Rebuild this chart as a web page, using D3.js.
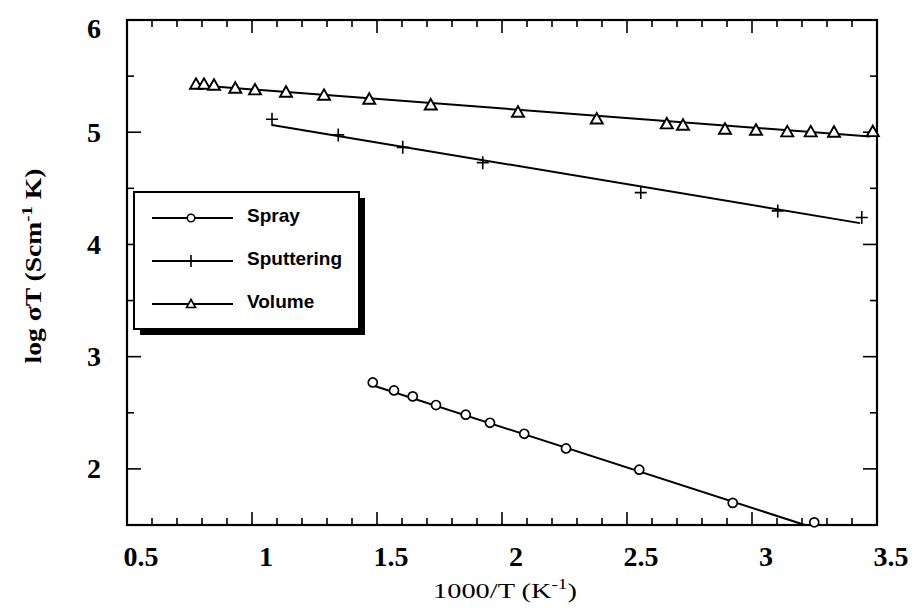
<!DOCTYPE html>
<html>
<head>
<meta charset="utf-8">
<script src="https://cdn.jsdelivr.net/npm/d3@7"></script>
<style>
  body { margin: 0; background: #fff; }
  svg { display: block; }
</style>
</head>
<body>
<svg id="chart"></svg>
<script>
// data
const sprayX = [1.483, 1.568, 1.643, 1.736, 1.855, 1.952, 2.089, 2.256, 2.549, 2.923, 3.249];
const sprayY = [2.770, 2.699, 2.646, 2.569, 2.483, 2.411, 2.313, 2.182, 1.993, 1.697, 1.524];
const sputterX = [1.080, 1.345, 1.603, 1.923, 2.555, 3.103, 3.439];
const sputterY = [5.116, 4.976, 4.865, 4.729, 4.462, 4.299, 4.240];
const volumeX = [0.776, 0.808, 0.848, 0.933, 1.012, 1.136, 1.288, 1.469, 1.715, 2.064, 2.379, 2.659, 2.724, 2.892, 3.016, 3.141, 3.235, 3.328, 3.483];
const volumeY = [5.427, 5.427, 5.419, 5.392, 5.377, 5.356, 5.329, 5.294, 5.243, 5.178, 5.118, 5.074, 5.062, 5.027, 5.018, 5.003, 5.003, 5.000, 5.005];

// fitted lines (end points)
const sprayFit = [[1.475, 2.750], [3.212, 1.500]];
const sputterFit = [[1.080, 5.065], [3.432, 4.190]];
const volumeFit = [[0.760, 5.423], [3.472, 4.961]];

const xTickLabels = [0.5, 1, 1.5, 2, 2.5, 3, 3.5];
const yTickLabels = [2, 3, 4, 5, 6];
const legendNames = ["Spray", "Sputtering", "Volume"];

const width = 915, height = 610;
const margin = { top: 20, right: 38, bottom: 85, left: 127 };
const serif = "'Liberation Serif', 'Times New Roman', serif";
const sans = "'Liberation Sans', Arial, sans-serif";

const svg = d3.select("#chart")
    .attr("width", width)
    .attr("height", height)
    .style("background-color", "#ffffff");

const x = d3.scaleLinear().domain([0.5, 3.5]).range([margin.left, width - margin.right]);
const y = d3.scaleLinear().domain([1.5, 6]).range([height - margin.bottom, margin.top]);

// ticks, all pointing inward
const xMinor = d3.range(5, 36).map(d => d / 10);
const yMinor = d3.range(3, 13).map(d => d / 2);
const isMajorX = d => Math.abs(d * 2 - Math.round(d * 2)) < 1e-6;
const isMajorY = d => Math.abs(d - Math.round(d)) < 1e-6;

const ticks = svg.append("g").attr("stroke", "#000").attr("stroke-width", 1.6);

ticks.selectAll(".xb").data(xMinor).enter().append("line")
    .attr("x1", d => x(d)).attr("x2", d => x(d))
    .attr("y1", y(1.5)).attr("y2", d => y(1.5) - (isMajorX(d) ? 13 : 7));
ticks.selectAll(".xt").data(xMinor).enter().append("line")
    .attr("x1", d => x(d)).attr("x2", d => x(d))
    .attr("y1", y(6)).attr("y2", d => y(6) + (isMajorX(d) ? 13 : 7));
ticks.selectAll(".yl").data(yMinor).enter().append("line")
    .attr("y1", d => y(d)).attr("y2", d => y(d))
    .attr("x1", x(0.5)).attr("x2", d => x(0.5) + (isMajorY(d) ? 14 : 7));
ticks.selectAll(".yr").data(yMinor).enter().append("line")
    .attr("y1", d => y(d)).attr("y2", d => y(d))
    .attr("x1", x(3.5)).attr("x2", d => x(3.5) - (isMajorY(d) ? 14 : 7));

// frame
svg.append("rect")
    .attr("x", x(0.5)).attr("y", y(6))
    .attr("width", x(3.5) - x(0.5)).attr("height", y(1.5) - y(6))
    .attr("fill", "none").attr("stroke", "#000").attr("stroke-width", 2.2);

// tick labels
svg.append("g").selectAll("text").data(xTickLabels).enter().append("text")
    .attr("x", d => x(d) + 14)
    .attr("y", y(1.5) + 41)
    .attr("text-anchor", "middle")
    .style("font-family", serif).style("font-weight", "bold").style("font-size", "28px")
    .text(d => d);

svg.append("g").selectAll("text").data(yTickLabels).enter().append("text")
    .attr("x", 101)
    .attr("y", d => y(d) + (d === 6 ? 8 : 0))
    .attr("text-anchor", "end")
    .attr("dominant-baseline", "central")
    .style("font-family", serif).style("font-weight", "bold").style("font-size", "28px")
    .text(d => d);

// axis titles (stretched along the reading direction like the original)
function stretchedTitle(cx, cy, rotate, target, bold, size, parts) {
    const t = svg.append("text")
        .attr("text-anchor", "middle")
        .style("font-family", serif)
        .style("font-weight", bold ? "bold" : "normal")
        .style("font-size", size + "px");
    parts.forEach(p => {
        const s = t.append("tspan").text(p.text);
        if (p.sup) s.attr("dy", -size * 0.4).style("font-size", (size * 0.68) + "px");
        if (p.after) s.attr("dy", size * 0.4);
    });
    const w = t.node().getComputedTextLength();
    t.attr("transform", `translate(${cx},${cy}) rotate(${rotate}) scale(${target / w},1)`);
}

stretchedTitle(505, 598, 0, 144, false, 22, [
    { text: "1000/T (K" }, { text: "-1", sup: true }, { text: ")", after: true }
]);
stretchedTitle(41, 266, -90, 195, true, 23, [
    { text: "log \u03C3T (Scm" }, { text: "-1", sup: true }, { text: " K)", after: true }
]);

// fit lines
const line = d3.line().x(d => x(d[0])).y(d => y(d[1]));
[sprayFit, sputterFit, volumeFit].forEach(f => {
    svg.append("path").attr("d", line(f))
        .attr("fill", "none").attr("stroke", "#000").attr("stroke-width", 2);
});

// markers
const circleSym = d3.symbol().type(d3.symbolCircle).size(64);
const plusSym = "M-6,0H6M0,-6.5V6.5";
const triSym = "M0,-6L6,4.5L-6,4.5Z";

function drawPoints(xs, ys, kind) {
    const g = svg.append("g");
    xs.forEach((xv, i) => {
        const p = g.append("path")
            .attr("transform", `translate(${x(xv)},${y(ys[i])})`)
            .attr("stroke", "#000");
        if (kind === "circle") p.attr("d", circleSym()).attr("fill", "#fff").attr("stroke-width", 1.7);
        if (kind === "plus") p.attr("d", plusSym).attr("fill", "none").attr("stroke-width", 1.6);
        if (kind === "tri") p.attr("d", triSym).attr("fill", "#fff").attr("stroke-width", 1.9);
    });
}
drawPoints(sprayX, sprayY, "circle");
drawPoints(sputterX, sputterY, "plus");
drawPoints(volumeX, volumeY, "tri");

// legend with drop shadow
const lg = svg.append("g");
const box = { x: 134, y: 192, w: 225, h: 137 };
lg.append("rect").attr("x", box.x + 6).attr("y", box.y + 6)
    .attr("width", box.w).attr("height", box.h).attr("fill", "#000");
lg.append("rect").attr("x", box.x).attr("y", box.y)
    .attr("width", box.w).attr("height", box.h)
    .attr("fill", "#fff").attr("stroke", "#000").attr("stroke-width", 2);

const kinds = ["circle", "plus", "tri"];
legendNames.forEach((name, i) => {
    const ry = 218 + i * 43;
    lg.append("line").attr("x1", 152).attr("x2", 233).attr("y1", ry).attr("y2", ry)
        .attr("stroke", "#000").attr("stroke-width", 2);
    const m = lg.append("path").attr("transform", `translate(191,${ry})`).attr("stroke", "#000");
    if (kinds[i] === "circle") m.attr("d", d3.symbol().type(d3.symbolCircle).size(45)()).attr("fill", "#fff").attr("stroke-width", 1.5);
    if (kinds[i] === "plus") m.attr("d", "M0,-6V6").attr("stroke-width", 1.6);
    if (kinds[i] === "tri") m.attr("d", "M0,-4.5L4.5,3.5L-4.5,3.5Z").attr("fill", "#fff").attr("stroke-width", 1.6);
    lg.append("text").attr("x", 247).attr("y", ry + 4)
        .style("font-family", sans).style("font-weight", "bold").style("font-size", "19px")
        .text(name);
});
</script>
</body>
</html>
